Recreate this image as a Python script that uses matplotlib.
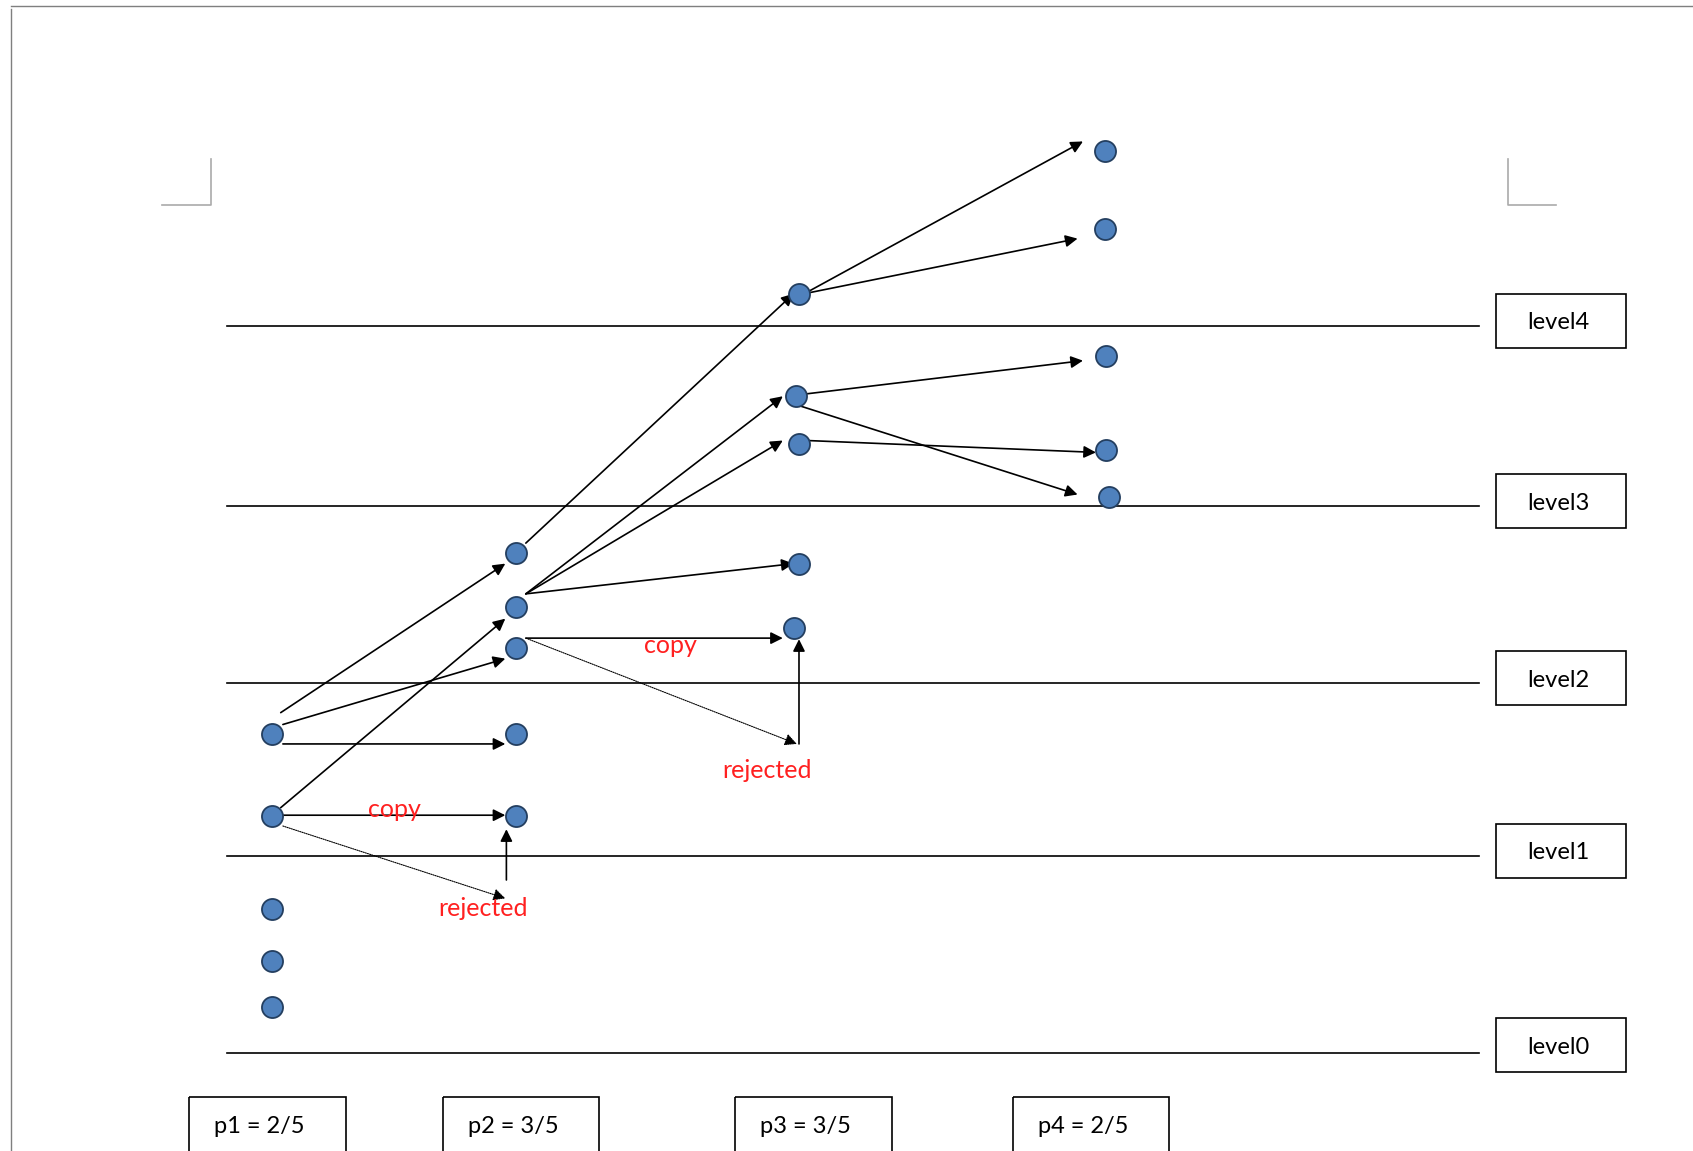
import matplotlib
matplotlib.use("Agg")
import matplotlib.pyplot as plt

# data (in reference pixel units of a 1568x1066 page)
level_names = ["level4", "level3", "level2", "level1", "level0"]
level_y = [302, 469, 633, 793, 975]
p_labels = ["p1 = 2/5", "p2 = 3/5", "p3 = 3/5", "p4 = 2/5"]
p_box_x = [175, 410, 681, 938]
pts_x = [252]*5 + [478]*5 + [740, 737, 740, 740, 735] + [1023, 1023, 1024, 1024, 1027]
pts_y = [680, 756, 842, 890, 933, 512, 562, 600, 680, 756,
         272, 367, 411, 522, 582, 140, 212, 330, 417, 460]
arrows = [((260,660),(468,522)), ((262,671),(468,610)), ((262,689),(468,689)),
          ((260,748),(468,573)), ((262,755),(468,755)), ((469,815),(469,768)),
          ((487,503),(735,272)), ((487,550),(725,367)), ((487,550),(725,408)),
          ((487,550),(735,522)), ((487,591),(725,591)), ((740,689),(740,592)),
          ((745,272),(1003,131)), ((745,272),(998,221)), ((745,365),(1003,334)),
          ((738,375),(998,458)), ((748,408),(1015,419))]
dotted = [((262,765),(468,832)), ((487,591),(738,689))]
red_texts = [("copy", 365, 750), ("copy", 621, 598), ("rejected", 447, 841), ("rejected", 710, 714)]

fig = plt.figure(figsize=(16.93, 11.51), dpi=100)
ax = fig.add_axes([0, 0, 1, 1])
ax.set_xlim(0, 1568); ax.set_ylim(1066, 0); ax.axis("off")

gray = "#7f7f7f"
ax.plot([10, 10], [8, 1066], color=gray, lw=1)
ax.plot([10, 1568], [6, 6], color=gray, lw=1)
ax.plot([150, 195, 195], [190, 190, 147], color="#aaaaaa", lw=1.2)
ax.plot([1441, 1397, 1397], [190, 190, 147], color="#aaaaaa", lw=1.2)

for name, y in zip(level_names, level_y):
    ax.plot([210, 1370], [y, y], color="black", lw=1.2)
    by = y - 30 if name != "level0" else y - 32
    ax.add_patch(plt.Rectangle((1386, by), 120, 50, fill=False, ec="black", lw=1.2))
    ax.text(1443, by + 27, name, ha="center", va="center", fontsize=17, family="Lato")

for lab, x in zip(p_labels, p_box_x):
    ax.add_patch(plt.Rectangle((x, 1016), 145, 60, fill=False, ec="black", lw=1.2, clip_on=True))
    ax.text(x + 65, 1043, lab, ha="center", va="center", fontsize=17, family="Lato")

for (a, b) in arrows:
    ax.annotate("", xy=b, xytext=a,
                arrowprops=dict(arrowstyle="-|>", color="black", lw=1.2, mutation_scale=18, shrinkA=0, shrinkB=0))
for (a, b) in dotted:
    ax.annotate("", xy=b, xytext=a,
                arrowprops=dict(arrowstyle="-|>", color="black", lw=0.8, ls=(0, (1, 1)), mutation_scale=18, shrinkA=0, shrinkB=0))

ax.scatter(pts_x, pts_y, s=230, color="#4F81BD", edgecolors="#243F60", linewidths=1.3, zorder=5)

for t, x, y in red_texts:
    ax.text(x, y, t, color="#FF2020", ha="center", va="center", fontsize=18, family="Lato", zorder=6)

fig.savefig("out.png", dpi=100)
